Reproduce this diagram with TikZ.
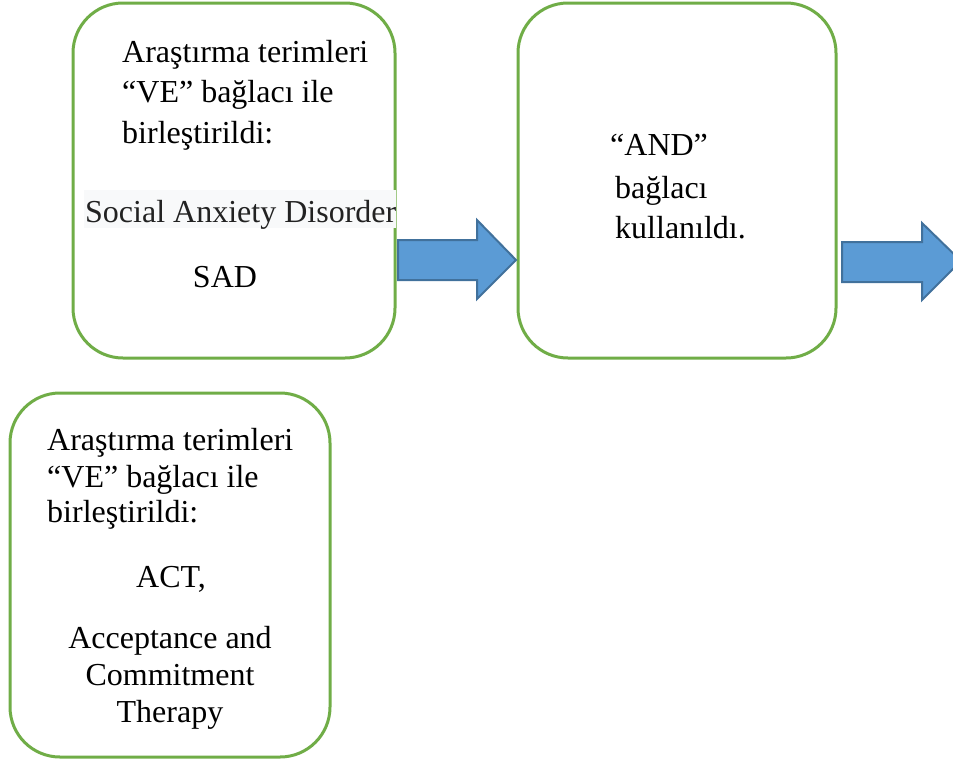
\documentclass[tikz,border=0pt]{standalone}
\usepackage{fontspec}
\setmainfont{Liberation Serif}
\definecolor{boxgreen}{HTML}{70AD47}
\definecolor{arrowfill}{HTML}{5B9BD5}
\definecolor{arrowline}{HTML}{41719C}
\definecolor{hlgray}{HTML}{F8F9FA}
\definecolor{hltext}{HTML}{222222}
\begin{document}
\begin{tikzpicture}[x=1pt,y=-1pt,
 roundbox/.style={draw=boxgreen, line width=3pt, rounded corners=50pt, fill=white, inner sep=0pt, outer sep=0pt, anchor=north west},
 blockarrow/.style={fill=arrowfill, draw=arrowline, line width=2pt, line join=miter},
 txt/.style={anchor=base west, inner sep=0pt, font=\fontsize{32}{41}\selectfont},
 ctxt/.style={anchor=base, inner sep=0pt, font=\fontsize{32}{41}\selectfont}]
\useasboundingbox (0,0) rectangle (953,761);
\clip (0,0) rectangle (953,761);
% boxes
\node[roundbox, minimum width=322pt, minimum height=355pt] (b1) at (73,3) {};
\node[roundbox, minimum width=318pt, minimum height=355pt] (b2) at (518,3) {};
\node[roundbox, minimum width=320pt, minimum height=364pt] (b3) at (10,393) {};
% box 1 text
\node[txt] (b1l1) at (122,62) {Araştırma terimleri};
\node[txt] (b1l2) at (122,102) {“VE” bağlacı ile};
\node[txt] (b1l3) at (122,143) {birleştirildi:};
\fill[hlgray] (84,190) rectangle (396,228);
\node[txt, text=hltext] (b1sad) at (85,222) {Social Anxiety Disorder};
\node[ctxt] (b1abbr) at (225,287) {SAD};
% box 2 text
\node[txt] (b2l1) at (610,155) {“AND”};
\node[txt] (b2l2) at (615,198) {bağlacı};
\node[txt] (b2l3) at (615,238) {kullanıldı.};
% box 3 text
\node[txt] (b3l1) at (47,450) {Araştırma terimleri};
\node[txt] (b3l2) at (47,487) {“VE” bağlacı ile};
\node[txt] (b3l3) at (47,522) {birleştirildi:};
\node[ctxt] (b3act) at (171,587) {ACT,};
\node[ctxt] (b3a) at (170,648) {Acceptance and};
\node[ctxt] (b3b) at (170,685) {Commitment};
\node[ctxt] (b3c) at (170,722) {Therapy};
% block arrows
\draw[blockarrow] (398,240) -- (477,240) -- (477,220) -- (516,260) -- (477,299) -- (477,280) -- (398,280) -- cycle;
\draw[blockarrow] (842,242) -- (922,242) -- (922,223) -- (961,261) -- (922,300) -- (922,282) -- (842,282) -- cycle;
\end{tikzpicture}
\end{document}
